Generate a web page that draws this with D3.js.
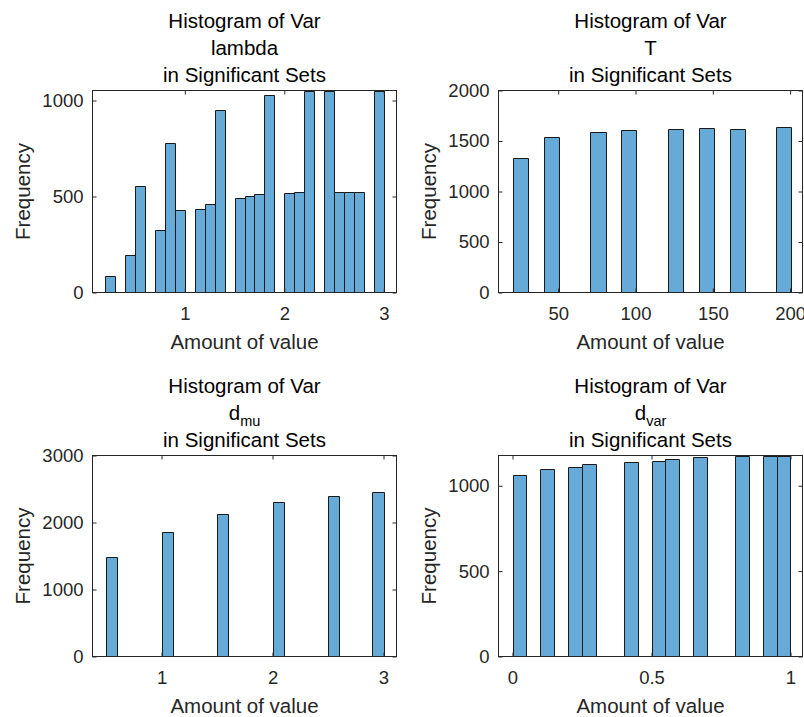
<!DOCTYPE html>
<html><head><meta charset="utf-8">
<script src="https://cdn.jsdelivr.net/npm/d3@7"></script>
<style>body{margin:0;background:#fff}svg{display:block}</style>
</head><body>
<svg id="c" width="804" height="717"></svg>
<script>
// ---------- data ----------
const lambdaBinStarts = [0.2,0.3,0.4,0.5,0.6,0.7,0.8,0.9,1.0,1.1,1.2,1.3,1.4,1.5,1.6,1.7,1.8,1.9,2.0,2.1,2.2,2.3,2.4,2.5,2.6,2.7,2.8,2.9];
const lambdaCounts    = [87,0,195,556,0,324,777,432,0,437,462,949,0,490,500,512,1031,0,516,521,1049,0,1050,521,521,521,0,1052];
const lambdaBinWidth  = 0.1;
const lambdaXTicks = [1,2,3];
const lambdaYTicks = [0,500,1000];

const tBinStarts = [20.7,40.6,70.8,90.7,120.9,140.8,160.9,191.0];
const tCounts    = [1328,1543,1593,1613,1623,1632,1623,1642];
const tBinWidth  = 9.8;
const tXTicks = [50,100,150,200];
const tYTicks = [0,500,1000,1500,2000];

const dmuBinStarts = [0.5,1.0,1.5,2.0,2.5,2.9];
const dmuCounts    = [1478,1864,2127,2300,2390,2449];
const dmuBinWidth  = 0.1;
const dmuXTicks = [1,2,3];
const dmuYTicks = [0,1000,2000,3000];

const dvarBinStarts = [0.0,0.1,0.2,0.25,0.4,0.5,0.55,0.65,0.8,0.9,0.95];
const dvarCounts    = [1064,1097,1111,1126,1138,1144,1156,1167,1173,1176,1177];
const dvarBinWidth  = 0.05;
const dvarXTicks = [0,0.5,1];
const dvarYTicks = [0,500,1000];

const titleLine1 = "Histogram of Var";
const titleLine3 = "in Significant Sets";
const xLabelText = "Amount of value";
const yLabelText = "Frequency";

// ---------- layout ----------
const FONT = "'Liberation Sans', Arial, Helvetica, sans-serif";
const svg = d3.select("#c");
const fill = "rgb(102,170,215)";
const axisCol = "#262626";

const panels = [
  {name:"lambda", sub:null, starts:lambdaBinStarts, counts:lambdaCounts, w:lambdaBinWidth,
   xt:lambdaXTicks, yt:lambdaYTicks, xd:[0.072,3.128], yMax:1052,
   left:92.5, right:396.5, top:90.5, bottom:292.5},
  {name:"T", sub:null, starts:tBinStarts, counts:tCounts, w:tBinWidth,
   xt:tXTicks, yt:tYTicks, xd:[11.4,208], yMax:2000,
   left:498.5, right:802.5, top:90.5, bottom:292.5},
  {name:"d", sub:"mu", starts:dmuBinStarts, counts:dmuCounts, w:dmuBinWidth,
   xt:dmuXTicks, yt:dmuYTicks, xd:[0.378,3.117], yMax:3000,
   left:92.5, right:396.5, top:455.5, bottom:656.5},
  {name:"d", sub:"var", starts:dvarBinStarts, counts:dvarCounts, w:dvarBinWidth,
   xt:dvarXTicks, yt:dvarYTicks, xd:[-0.0504,1.0432], yMax:1177,
   left:498.5, right:802.5, top:455.5, bottom:656.5}
];

panels.forEach((p, i) => {
  const x = d3.scaleLinear().domain(p.xd).range([p.left, p.right]);
  const y = d3.scaleLinear().domain([0, p.yMax]).range([p.bottom, p.top]);
  const g = svg.append("g");

  const cid = "clip" + i;
  svg.append("clipPath").attr("id", cid).append("rect")
    .attr("x", p.left).attr("y", p.top - 0.5)
    .attr("width", p.right - p.left).attr("height", p.bottom - p.top + 0.5);

  // bars
  const bars = p.starts.map((s, k) => ({x0: s, x1: s + p.w, c: p.counts[k]}));
  g.append("g").attr("clip-path", `url(#${cid})`)
    .selectAll("path").data(bars).join("path")
    .attr("d", d => {
      const x0 = Math.round(x(d.x0)) + 0.5, x1 = Math.round(x(d.x1)) + 0.5;
      const y0 = p.bottom, y1 = Math.round(y(d.c)) + 0.5;
      return `M${x0},${y0}V${y1}H${x1}V${y0}Z`;
    })
    .attr("fill", fill)
    .attr("stroke", "#1a1a1a")
    .attr("stroke-width", 1);

  // axes
  const styleAxis = (sel, showText) => {
    sel.select(".domain").remove();
    sel.selectAll(".tick line").attr("stroke", axisCol);
    sel.selectAll(".tick text").attr("fill", axisCol)
      .style("font-family", FONT).style("font-size", "18.5px");
    if (!showText) sel.selectAll(".tick text").remove();
  };
  const fmt = d3.format("");
  g.append("g").attr("transform", `translate(0,${p.bottom})`)
    .call(d3.axisBottom(x).tickValues(p.xt).tickFormat(d => fmt(d)).tickSizeInner(-4).tickSizeOuter(0).tickPadding(14.2))
    .call(s => styleAxis(s, true));
  g.append("g").attr("transform", `translate(0,${p.top})`)
    .call(d3.axisTop(x).tickValues(p.xt).tickSizeInner(-4).tickSizeOuter(0))
    .call(s => styleAxis(s, false));
  g.append("g").attr("transform", `translate(${p.left},0)`)
    .call(d3.axisLeft(y).tickValues(p.yt).tickFormat(d => fmt(d)).tickSizeInner(-4).tickSizeOuter(0).tickPadding(9))
    .call(s => styleAxis(s, true));
  g.append("g").attr("transform", `translate(${p.right},0)`)
    .call(d3.axisRight(y).tickValues(p.yt).tickSizeInner(-4).tickSizeOuter(0))
    .call(s => styleAxis(s, false));

  // box
  g.append("rect").attr("x", p.left).attr("y", p.top)
    .attr("width", p.right - p.left).attr("height", p.bottom - p.top)
    .attr("fill", "none").attr("stroke", axisCol).attr("stroke-width", 1);

  const cx = (p.left + p.right) / 2;
  const cy = (p.top + p.bottom) / 2;

  // title
  const tg = g.append("g").style("font-family", FONT).style("font-size", "20.5px").attr("fill", "#000").attr("text-anchor", "middle");
  tg.append("text").attr("x", cx).attr("y", p.top - 62.4).text(titleLine1);
  const t2 = tg.append("text").attr("x", cx).attr("y", p.top - 35.7);
  if (p.sub) {
    t2.append("tspan").text(p.name);
    t2.append("tspan").attr("dy", 6).style("font-size", "14.5px").text(p.sub);
  } else {
    t2.text(p.name);
  }
  tg.append("text").attr("x", cx).attr("y", p.top - 9).text(titleLine3);

  // x label
  g.append("text").attr("x", cx).attr("y", p.bottom + 56)
    .attr("text-anchor", "middle").attr("fill", axisCol)
    .style("font-family", FONT).style("font-size", "20.5px").text(xLabelText);
  // y label
  g.append("text").attr("transform", `translate(${p.left - 62.5},${cy}) rotate(-90)`)
    .attr("text-anchor", "middle").attr("fill", axisCol)
    .style("font-family", FONT).style("font-size", "20.5px").text(yLabelText);
});
</script>
</body></html>
